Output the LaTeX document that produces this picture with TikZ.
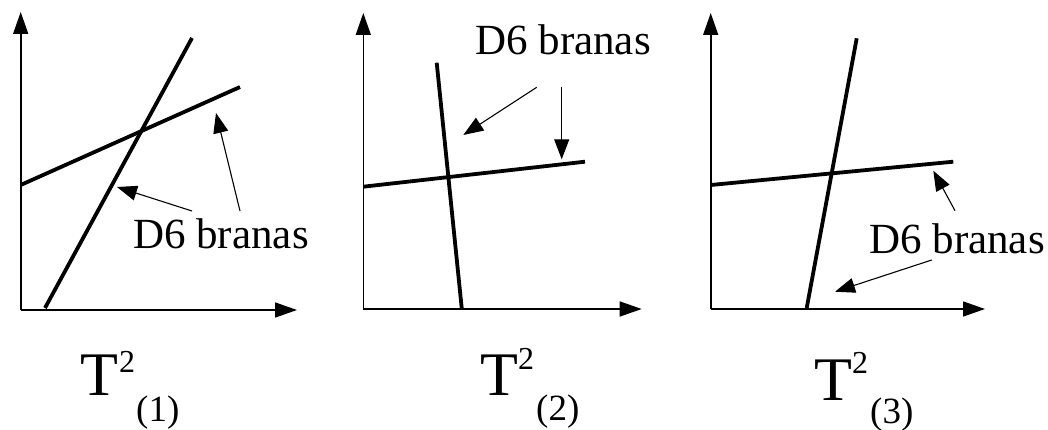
\documentclass[tikz,border=0pt]{standalone}
\usepackage{fontspec}
\setmainfont{Liberation Serif}
\usetikzlibrary{arrows.meta}
\begin{document}
\begin{tikzpicture}[x=1pt,y=-1pt,
  axisline/.style={line width=1.6pt,-{Triangle[length=22pt,width=15pt]}},
  brane/.style={line width=3.8pt},
  pointer/.style={line width=1.1pt,-{Triangle[length=20pt,width=15pt]}},
  dlbl/.style={inner sep=0pt,anchor=base west,font=\fontsize{43}{43}\selectfont},
  tlbl/.style={inner sep=0pt,anchor=base west,font=\fontsize{62}{62}\selectfont},
  suplbl/.style={inner sep=0pt,anchor=base west,font=\fontsize{32}{32}\selectfont},
  sublbl/.style={inner sep=0pt,anchor=base west,font=\fontsize{37}{37}\selectfont}]
\useasboundingbox (0,0) rectangle (1048,430);
% ---------- panel 1 ----------
\coordinate (o1) at (20.7,310);
\coordinate (y1) at (20.7,12);
\coordinate (x1) at (297,310);
\draw[axisline] (o1) -- (y1);
\draw[axisline] (o1) -- (x1);
\coordinate (a1s) at (45,308);
\coordinate (a1e) at (192,38);
\coordinate (b1s) at (20.7,185);
\coordinate (b1e) at (240,87);
\draw[brane] (a1s) -- (a1e);
\draw[brane] (b1s) -- (b1e);
\node[dlbl] (d1) at (133,248) {D6 branas};
\coordinate (p1a) at (192,211);
\coordinate (q1a) at (117,187);
\coordinate (p1b) at (240,211);
\coordinate (q1b) at (216,113);
\draw[pointer] (p1a) -- (q1a);
\draw[pointer] (p1b) -- (q1b);
\node[tlbl] (t1) at (80,395) {T};
\node[suplbl] (s1) at (119,372) {2};
\node[sublbl] (n1) at (136,421) {(1)};
% ---------- panel 2 ----------
\coordinate (o2) at (363.3,309);
\coordinate (y2) at (363.3,13);
\coordinate (x2) at (641.7,309);
\draw[axisline] (o2) -- (y2);
\draw[axisline] (o2) -- (x2);
\coordinate (a2s) at (436.7,62.7);
\coordinate (a2e) at (461.7,308);
\coordinate (b2s) at (363.3,186.7);
\coordinate (b2e) at (585,161.7);
\draw[brane] (a2s) -- (a2e);
\draw[brane] (b2s) -- (b2e);
\node[dlbl] (d2) at (475,55) {D6 branas};
\coordinate (p2a) at (536.7,87.3);
\coordinate (q2a) at (463.3,135);
\coordinate (p2b) at (561.7,86.7);
\coordinate (q2b) at (561.7,159.3);
\draw[pointer] (p2a) -- (q2a);
\draw[pointer] (p2b) -- (q2b);
\node[tlbl] (t2) at (480,395) {T};
\node[suplbl] (s2) at (518,369) {2};
\node[sublbl] (n2) at (536,420) {(2)};
% ---------- panel 3 ----------
\coordinate (o3) at (710.7,309);
\coordinate (y3) at (710.7,13);
\coordinate (x3) at (985,309);
\draw[axisline] (o3) -- (y3);
\draw[axisline] (o3) -- (x3);
\coordinate (a3s) at (806.7,308);
\coordinate (a3e) at (856.7,38.3);
\coordinate (b3s) at (710.7,185);
\coordinate (b3e) at (953.3,161.7);
\draw[brane] (a3s) -- (a3e);
\draw[brane] (b3s) -- (b3e);
\node[dlbl] (d3) at (869,253) {D6 branas};
\coordinate (p3a) at (955,210.7);
\coordinate (q3a) at (933.3,170.7);
\coordinate (p3b) at (931.7,260);
\coordinate (q3b) at (835,291.7);
\draw[pointer] (p3a) -- (q3a);
\draw[pointer] (p3b) -- (q3b);
\node[tlbl] (t3) at (814,400) {T};
\node[suplbl] (s3) at (852,373) {2};
\node[sublbl] (n3) at (870,423) {(3)};
\end{tikzpicture}
\end{document}
